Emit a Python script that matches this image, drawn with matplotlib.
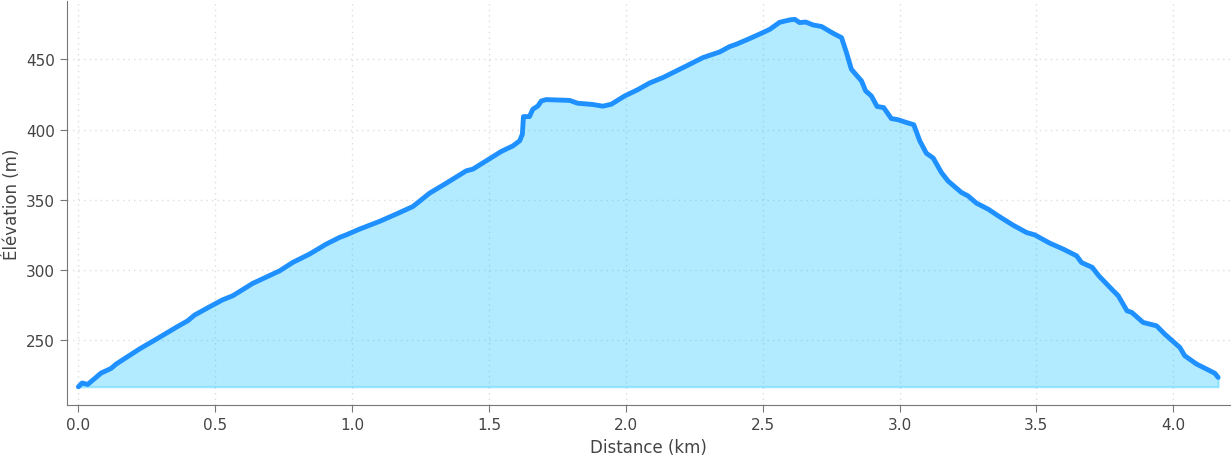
import matplotlib
matplotlib.use("Agg")
import matplotlib.pyplot as plt
import numpy as np

distance_km = [0.000, 0.0135, 0.034, 0.083, 0.1195, 0.138, 0.223, 0.296, 0.357, 0.3995,
               0.424, 0.479, 0.527, 0.564, 0.637, 0.735, 0.783, 0.844, 0.905, 0.954,
               0.978, 1.027, 1.100, 1.161, 1.222, 1.283, 1.344, 1.368, 1.417, 1.441,
               1.490, 1.545, 1.587, 1.612, 1.622, 1.626, 1.648, 1.660, 1.679, 1.691,
               1.709, 1.795, 1.824, 1.879, 1.916, 1.947, 1.996, 2.043, 2.087, 2.136,
               2.197, 2.221, 2.282, 2.343, 2.379, 2.404, 2.452, 2.501, 2.526, 2.562,
               2.599, 2.617, 2.635, 2.657, 2.684, 2.715, 2.757, 2.788, 2.806, 2.824,
               2.842, 2.861, 2.876, 2.897, 2.918, 2.942, 2.970, 2.994, 3.025, 3.052,
               3.074, 3.098, 3.123, 3.153, 3.177, 3.226, 3.250, 3.281, 3.324, 3.360,
               3.415, 3.464, 3.494, 3.549, 3.598, 3.647, 3.665, 3.704, 3.728, 3.775,
               3.799, 3.831, 3.848, 3.890, 3.939, 3.969, 4.024, 4.042, 4.085, 4.122,
               4.152, 4.164]
elevation_m = [216.9, 219.6, 218.6, 226.7, 230.0, 233.1, 243.8, 252.1, 259.2, 263.9,
               267.9, 273.8, 278.8, 281.7, 290.5, 299.4, 305.4, 311.3, 318.4, 323.2,
               325.0, 329.1, 334.6, 339.8, 345.2, 354.7, 361.8, 364.7, 370.6, 371.8,
               377.7, 384.4, 388.3, 391.9, 396.7, 409.2, 409.2, 414.4, 416.8, 420.3,
               421.3, 420.7, 418.7, 417.8, 416.6, 418.0, 423.9, 428.3, 433.1, 437.0,
               442.9, 445.2, 451.2, 455.2, 459.0, 460.7, 464.7, 469.0, 471.3, 476.3,
               478.0, 478.4, 476.1, 476.5, 474.4, 473.3, 468.5, 465.4, 454.8, 442.9,
               438.8, 434.6, 427.5, 423.9, 416.4, 415.6, 407.8, 407.0, 405.0, 403.4,
               391.9, 383.1, 379.7, 369.4, 363.4, 355.2, 352.8, 347.6, 343.3, 338.6,
               331.9, 326.7, 325.0, 319.1, 314.9, 310.1, 305.3, 301.9, 295.9, 286.4,
               281.7, 271.0, 269.9, 262.7, 260.3, 254.4, 244.9, 239.0, 233.1, 229.5,
               226.5, 223.6]

x = np.array(distance_km)
y = np.array(elevation_m)

fig = plt.figure(figsize=(12.32, 4.6), dpi=100)
ax = fig.add_axes([0.0544, 0.117, 0.9436, 0.8787])

ax.fill_between(x, y, y.min(), color="deepskyblue", alpha=0.3, linewidth=1.5)
ax.plot(x, y, color="dodgerblue", linewidth=3.5, solid_capstyle="round", solid_joinstyle="round")

ax.margins(x=0.01, y=0.05)
ax.set_yticks([250, 300, 350, 400, 450])
ax.set_xticks(np.arange(0, 4.01, 0.5))

ax.grid(True, linestyle=(0, (1, 3)), color="#dddddd", linewidth=1)
ax.set_axisbelow(True)
for s in ["top", "right"]:
    ax.spines[s].set_visible(False)
for s in ["left", "bottom"]:
    ax.spines[s].set_color("#777777")
ax.tick_params(colors="#444444", labelsize=11, length=5, color="#777777")
ax.set_xlabel("Distance (km)", fontsize=12, color="#444444")
ax.set_ylabel("Élévation (m)", fontsize=12, color="#444444")

fig.savefig("out.png", dpi=100)
